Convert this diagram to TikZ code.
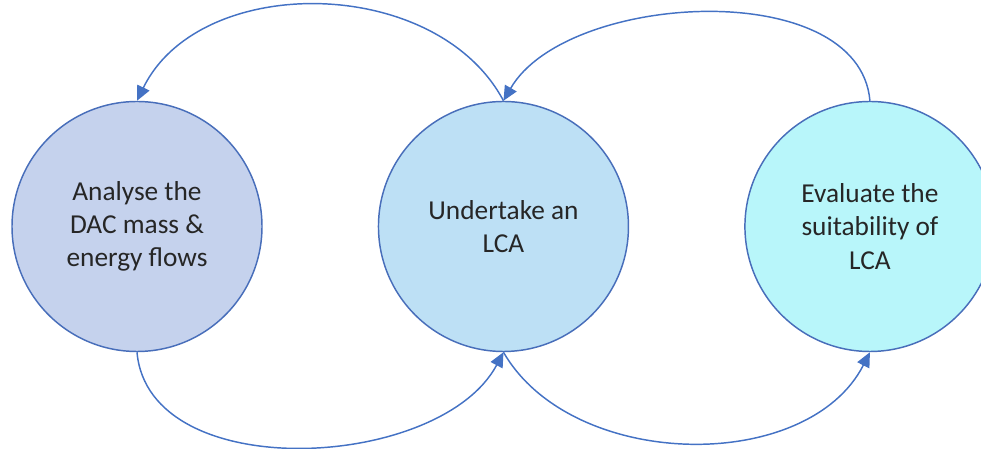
\documentclass[tikz,border=0pt]{standalone}
\usepackage{fontspec}
\setmainfont{Carlito}
\usetikzlibrary{arrows.meta,positioning}
\definecolor{ringblue}{RGB}{72,110,186}
\definecolor{arcblue}{RGB}{68,114,196}
\definecolor{fillA}{RGB}{197,210,237}
\definecolor{fillB}{RGB}{189,224,245}
\definecolor{fillC}{RGB}{184,246,250}
\tikzset{
	stage/.style={circle, draw=ringblue, line width=1.1pt, minimum size=187.5pt,
		inner sep=0pt, align=center, text=black!85,
		font=\fontsize{20.5}{25}\selectfont},
	cycle arc/.style={draw=arcblue, line width=1.1pt,
		-{Triangle[length=11pt,width=10pt]}}
}

\begin{document}
\begin{tikzpicture}[x=0.75pt, y=0.75pt, node distance=86.25pt]
  \clip (0,0) rectangle (981,449);
  \node[stage, fill=fillA] (dac) at (137,222.5) {Analyse the\\DAC mass \&\\energy flows};
  \node[stage, fill=fillB, right=of dac] (lca) {Undertake an\\LCA};
  \node[stage, fill=fillC, right=of lca] (eval) {Evaluate the\\suitability of\\LCA};
  % upper loop, right to left
  \draw[cycle arc] (lca.north) to[out=118, in=64, looseness=1.0] (dac.north);
  \draw[cycle arc] (eval.north) to[out=95, in=60, looseness=0.88] (lca.north);
  % lower loop, left to right
  \draw[cycle arc] (dac.south) to[out=-85, in=-118, looseness=0.94] (lca.south);
  \draw[cycle arc] (lca.south) to[out=-60, in=-117, looseness=0.96] (eval.south);
\end{tikzpicture}
\end{document}
